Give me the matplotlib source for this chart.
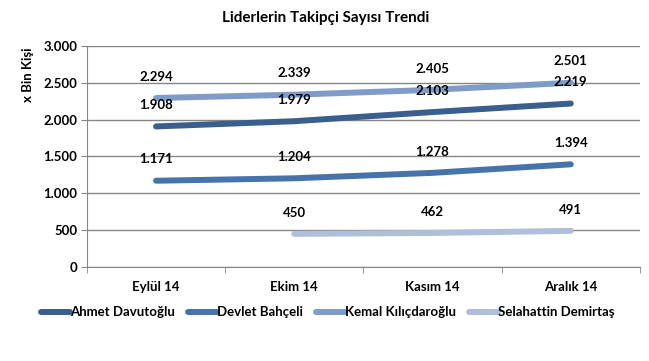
import matplotlib.pyplot as plt
import numpy as np

plt.rcParams['font.family'] = ['Lato', 'DejaVu Sans']

# veriler
aylar = ['Eylül 14', 'Ekim 14', 'Kasım 14', 'Aralık 14']
ahmet = [1908, 1979, 2103, 2219]
devlet = [1171, 1204, 1278, 1394]
kemal = [2294, 2339, 2405, 2501]
selahattin = [np.nan, 450, 462, 491]

isimler = ['Ahmet Davutoğlu', 'Devlet Bahçeli', 'Kemal Kılıçdaroğlu', 'Selahattin Demirtaş']
renkler = ['#3a5f8e', '#4673aa', '#7f9bc8', '#afbfd9']
seriler = [ahmet, devlet, kemal, selahattin]

fig = plt.figure(figsize=(6.49, 3.61), dpi=100)
ax = fig.add_axes([0.134, 0.2604, 0.852, 0.6122])

x = np.arange(len(aylar))
for isim, renk, s in zip(isimler, renkler, seriler):
    ax.plot(x, s, color=renk, lw=4.3, solid_capstyle='round', label=isim)
    for xi, v in zip(x, s):
        if np.isnan(v):
            continue
        etiket = f'{v:,.0f}'.replace(',', '.')
        ax.annotate(etiket, (xi, v), xytext=(0, 11), textcoords='offset points',
                    ha='center', va='bottom', fontsize=9.5, fontweight='bold', color='black')

ax.set_xlim(-0.5, 3.5)
ax.set_ylim(0, 3000)
ax.set_yticks(range(0, 3001, 500))
ax.set_yticklabels([f'{v:,}'.replace(',', '.') for v in range(0, 3001, 500)],
                   fontsize=9.5, fontweight='bold')
ax.set_xticks(x)
ax.set_xticklabels(aylar, fontsize=9.5, fontweight='bold')
ax.set_xticks(np.arange(-0.5, 4, 1), minor=True)
ax.tick_params(axis='x', which='major', length=0, pad=10)
ax.tick_params(axis='x', which='minor', length=4, color='#868686')
ax.tick_params(axis='y', length=4, color='#868686', pad=3)

ax.yaxis.grid(True, color='#868686', lw=1)
ax.set_axisbelow(True)
for k in ['top', 'right']:
    ax.spines[k].set_visible(False)
ax.spines['left'].set_color('#868686')
ax.spines['bottom'].set_color('#868686')

ax.set_ylabel('x Bin Kişi', fontsize=9.5, fontweight='bold')
ax.yaxis.set_label_coords(-0.095, 0.87)

fig.text(0.502, 0.95, 'Liderlerin Takipçi Sayısı Trendi', ha='center', va='center',
         fontsize=11, fontweight='bold')

fig.legend(loc='center', bbox_to_anchor=(0.505, 0.135), ncol=4, frameon=False,
           handlelength=2.2, handletextpad=0.0, columnspacing=1.0,
           prop={'weight': 'bold', 'size': 9.5})

fig.savefig('out.png', dpi=100)
